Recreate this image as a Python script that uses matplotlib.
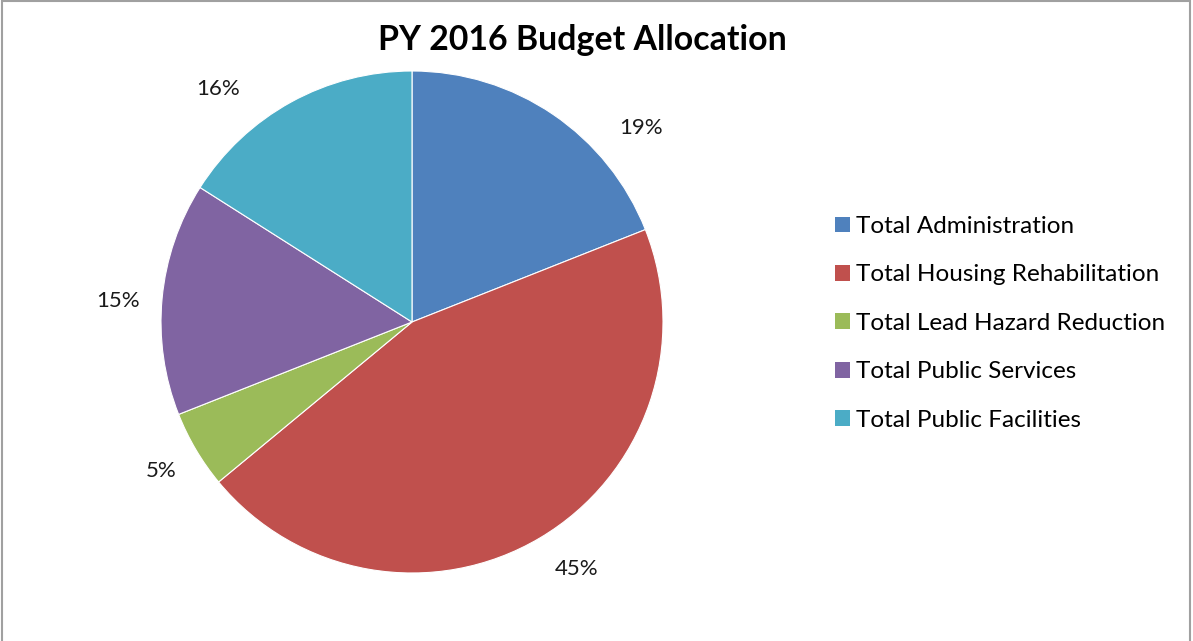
import matplotlib
matplotlib.use("Agg")
import numpy as np
import matplotlib.pyplot as plt
from matplotlib.patches import Rectangle, Patch

categories = ["Total Administration", "Total Housing Rehabilitation",
              "Total Lead Hazard Reduction", "Total Public Services",
              "Total Public Facilities"]
values = [19, 45, 5, 15, 16]
colors = ["#4F81BD", "#C0504D", "#9BBB59", "#8064A2", "#4BACC6"]
title = "PY 2016 Budget Allocation"

# label placement style (best-fit style offsets from the wedge bisector)
label_angle_offset = [-15.5, 3.1, 0.0, 1.3, 11.0]
label_distance = [1.195, 1.183, 1.163, 1.176, 1.21]

plt.rcParams['font.family'] = ['Lato', 'DejaVu Sans']

W, H = 1193, 641
fig = plt.figure(figsize=(W / 100, H / 100), dpi=100)

cx, cy, r = 412, 322, 251
ax = fig.add_axes([(cx - r) / W, (H - cy - r) / H, 2 * r / W, 2 * r / H])
wedges, texts, autotexts = ax.pie(values, colors=colors, startangle=90, counterclock=False,
                                  autopct='%.0f%%', pctdistance=1.18, radius=1,
                                  wedgeprops=dict(edgecolor='white', linewidth=0.8),
                                  textprops=dict(fontsize=16, color='#1a1a1a'))
for w, t, off, d in zip(wedges, autotexts, label_angle_offset, label_distance):
    mid = np.deg2rad((w.theta1 + w.theta2) / 2 + off)
    t.set_position((d * np.cos(mid), d * np.sin(mid)))
    t.set_ha('center')
    t.set_va('center')

ax.set_xlim(-1, 1)
ax.set_ylim(-1, 1)
ax.set_aspect('auto')
ax.axis('off')

fig.text(582 / W, 1 - 40 / H, title, ha='center', va='center', fontsize=24.4,
         fontweight='bold', color='black')

handles = [Patch(facecolor=c, edgecolor='none') for c in colors]
leg = fig.legend(handles, categories, loc='upper left', bbox_to_anchor=(823 / W, 1 - 204 / H),
                 frameon=False, fontsize=17.5, handlelength=0.62, handleheight=0.62,
                 handletextpad=0.22, labelspacing=1.125, borderpad=0)

fig.patches.append(Rectangle((1.5 / W, -0.01), (1190 - 1.5) / W, 1 - 1.5 / H + 0.01,
                             transform=fig.transFigure, fill=False,
                             edgecolor='#a0a0a0', linewidth=1.5))

fig.savefig("out.png", dpi=100)
